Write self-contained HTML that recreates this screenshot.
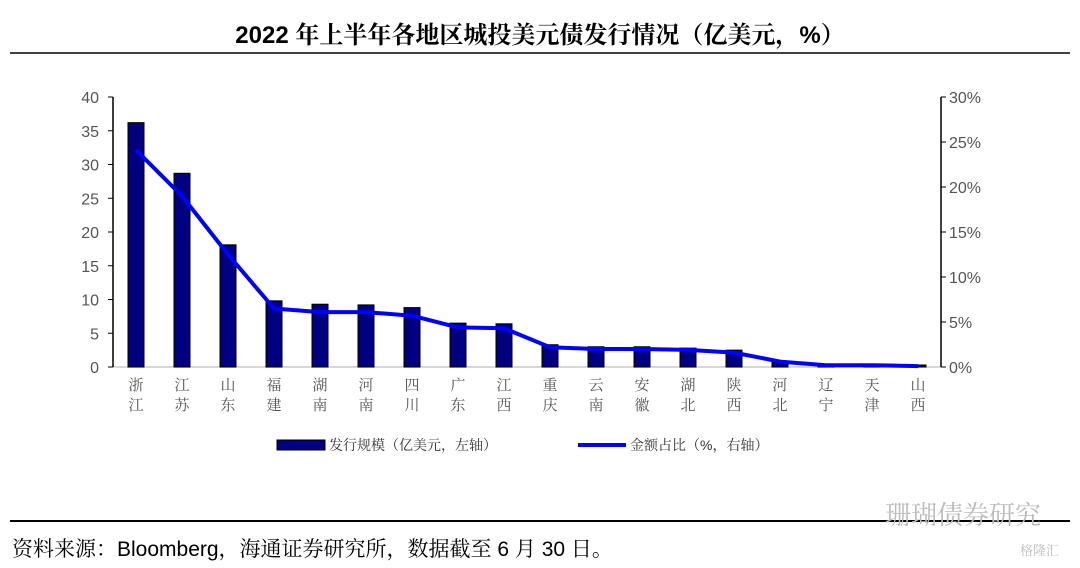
<!DOCTYPE html>
<html><head><meta charset="utf-8"><style>
body{margin:0;width:1080px;height:563px;background:#fff;overflow:hidden;font-family:"Liberation Sans","Noto Sans CJK SC",sans-serif}
svg text{font-family:"Liberation Sans","Noto Serif CJK SC","Noto Sans CJK SC",sans-serif}
</style></head><body>
<svg id="c" width="1080" height="563">
<text x="540" y="43" text-anchor="middle" font-size="24" font-weight="bold" fill="#000">2022 年上半年各地区城投美元债发行情况（亿美元，%）</text>
<line x1="10" y1="53" x2="1070" y2="53" stroke="#000" stroke-width="1.5"/>
<line x1="10" y1="521" x2="1070" y2="521" stroke="#000" stroke-width="2"/>
<text x="12" y="556" font-size="21" fill="#000">资料来源：Bloomberg，海通证券研究所，数据截至 6 月 30 日。</text>
<text x="885" y="524" font-size="26" fill="#bbb">珊瑚债券研究</text>
<text x="1020" y="555" font-size="13" fill="#bbb">格隆汇</text>
<g id="plot"></g>
<g>
<rect x="277" y="440" width="48" height="10" fill="#000080" stroke="#000"/>
<text x="329" y="450" font-size="14" fill="#333">发行规模（亿美元，左轴）</text>
<line x1="578" y1="445" x2="626" y2="445" stroke="#0000ff" stroke-width="4"/>
<text x="630" y="450" font-size="14" fill="#333">金额占比（%，右轴）</text>
</g>
</svg>
<script>
const categories=["浙江","江苏","山东","福建","湖南","河南","四川","广东","江西","重庆","云南","安徽","湖北","陕西","河北","辽宁","天津","山西"];
const issuance=[36.2,28.7,18.1,9.8,9.3,9.2,8.8,6.5,6.4,3.3,3.0,3.0,2.8,2.5,0.8,0.2,0.2,0.3];
const share=[24.1,19.0,12.5,6.5,6.1,6.1,5.7,4.4,4.3,2.2,2.0,2.0,1.9,1.6,0.6,0.2,0.2,0.1];
const leftTicks=[0,5,10,15,20,25,30,35,40];
const rightTicks=[0,5,10,15,20,25,30];
const NS="http://www.w3.org/2000/svg";
const g=document.getElementById('plot');
const X0=113,X1=941,Y0=367,Y1=97;
const step=(X1-X0)/categories.length;
const xc=i=>X0+step*(i+0.5);
const yL=v=>Y0-(v/40)*(Y0-Y1);
const yR=v=>Y0-(v/30)*(Y0-Y1);
function mk(t,a){const e=document.createElementNS(NS,t);for(const k in a)e.setAttribute(k,a[k]);g.appendChild(e);return e;}
let e=mk('line',{x1:X0,y1:Y0,x2:X1,y2:Y0,stroke:'#ccc','stroke-width':1.5});


e=mk('line',{x1:X0,y1:Y1,x2:X0,y2:Y0,stroke:'#000','stroke-width':1.5});


e=mk('line',{x1:X1,y1:Y1,x2:X1,y2:Y0,stroke:'#000','stroke-width':1.5});


leftTicks.forEach(v=>{
 mk('line',{x1:X0-5,x2:X0,y1:yL(v),y2:yL(v),stroke:'#000'});
 const t=mk('text',{x:X0-14,y:yL(v)+6,'text-anchor':'end','font-size':16,fill:'#555'});t.textContent=v;
 
 
});
rightTicks.forEach(v=>{
 mk('line',{x1:X1,x2:X1+5,y1:yR(v),y2:yR(v),stroke:'#000'});
 const t=mk('text',{x:X1+8,y:yR(v)+6,'font-size':16,fill:'#555'});t.textContent=v+'%';
 
 
});
issuance.forEach((v,i)=>{
 const r=mk('rect',{x:xc(i)-8,y:yL(v),width:16,height:Y0-yL(v),fill:'#000080',stroke:'#000','stroke-width':1});
 
 
});
categories.forEach((c,i)=>{
 [0,1].forEach(k=>{const t=mk('text',{x:xc(i),y:390+k*20,'text-anchor':'middle','font-size':15,fill:'#555'});t.textContent=c[k];
 
 });
});
const p=mk('polyline',{points:share.map((v,i)=>xc(i)+','+yR(v)).join(' '),fill:'none',stroke:'#0000ff','stroke-width':4,'stroke-linejoin':'round'});


</script>
</body></html>
